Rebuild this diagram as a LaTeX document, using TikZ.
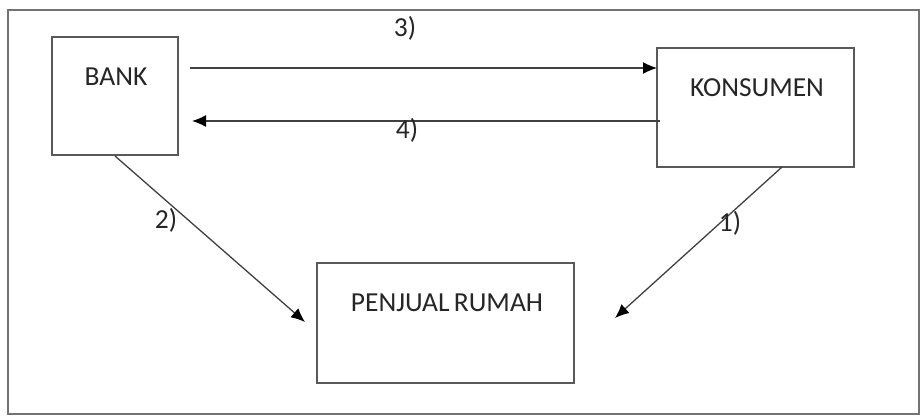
\documentclass[tikz,border=0pt]{standalone}
\usepackage{fontspec}
\setmainfont{Carlito}
\usetikzlibrary{arrows.meta}
\begin{document}
\begin{tikzpicture}[x=1pt,y=-1pt,
  boxst/.style={draw=black!65, line width=1.6pt, rectangle, inner sep=0pt},
  lbl/.style={font=\fontsize{27.5}{30}\selectfont, text=black!85},
  conn/.style={draw=black!75, line width=1.3pt, -{Latex[length=14pt,width=12pt,fill=black,color=black]}}]
\useasboundingbox (0,0) rectangle (921,416);
\draw[draw=black!55, line width=1.3pt] (8,10) rectangle (919,414);
\node[boxst, minimum width=126pt, minimum height=118pt] (bank) at (115,96) {};
\node[boxst, minimum width=197pt, minimum height=119pt] (kons) at (755.5,107.5) {};
\node[boxst, minimum width=257pt, minimum height=120pt] (pr) at (445.5,323) {};
\node[lbl] (tbank) at (116,77) {BANK};
\node[lbl] (tkons) at (757,88) {KONSUMEN};
\node[lbl] (tpr) at (447,303) {PENJUAL\hspace{-2pt} RUMAH};
\coordinate (a3s) at (190,68);
\coordinate (a3e) at (657,68);
\coordinate (a4s) at (660,121);
\coordinate (a4e) at (192,121);
\coordinate (a2s) at (115,156);
\coordinate (a2e) at (305,322);
\coordinate (a1s) at (782,167);
\coordinate (a1e) at (615,318);
\draw[conn] (a3s) -- (a3e);
\draw[conn] (a4s) -- (a4e);
\draw[conn] (a2s) -- (a2e);
\draw[conn] (a1s) -- (a1e);
\node[lbl] (l3) at (405,28) {3)};
\node[lbl] (l4) at (407,130) {4)};
\node[lbl] (l2) at (166,220) {2)};
\node[lbl] (l1) at (730,223) {1)};
\end{tikzpicture}
\end{document}
